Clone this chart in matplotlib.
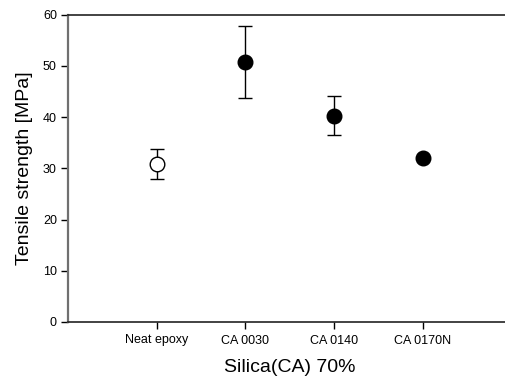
import matplotlib
matplotlib.use("Agg")
import matplotlib.pyplot as plt

categories = ["Neat epoxy", "CA 0030", "CA 0140", "CA 0170N"]
strength = [30.8, 50.8, 40.3, 32.0]
errors = [2.9, 7.0, 3.8, 0.0]
filled = [False, True, True, True]
yticks = [0, 10, 20, 30, 40, 50, 60]

plt.rcParams['font.family'] = ['Liberation Sans', 'DejaVu Sans']

fig = plt.figure(figsize=(5.06, 3.78), dpi=100)
W, H = 506, 378
left, right, top, bottom = 68, 511.5, 14.7, 322
ax = fig.add_axes([left / W, 1 - bottom / H, (right - left) / W, (bottom - top) / H])

xs = list(range(1, len(categories) + 1))
for x, y, e, f in zip(xs, strength, errors, filled):
    ax.errorbar(x, y, yerr=e, fmt='o', color='black', ecolor='black',
                elinewidth=1.0, capsize=5, capthick=1.0,
                markersize=10.5, markeredgewidth=1.0,
                markerfacecolor='black' if f else 'white',
                markeredgecolor='black', zorder=3)

ax.set_xlim(0, 5)
ax.set_ylim(0, 60)
ax.set_xticks(xs)
ax.set_xticklabels(categories, fontsize=9)
ax.set_yticks(yticks)
ax.set_yticklabels([str(v) for v in yticks], fontsize=9)
ax.tick_params(axis='both', direction='out', length=5, width=1.0, colors='black')
ax.tick_params(axis='x', pad=4)
ax.tick_params(axis='y', pad=3)

ax.spines['right'].set_visible(False)
ax.spines['left'].set_color('#707070')
ax.spines['left'].set_linewidth(1.6)
ax.spines['top'].set_color('#222222')
ax.spines['top'].set_linewidth(1.2)
ax.spines['bottom'].set_color('#222222')
ax.spines['bottom'].set_linewidth(1.2)

ax.set_xlabel("Silica(CA) 70%", fontsize=14, labelpad=9)
ax.set_ylabel("Tensile strength [MPa]", fontsize=14, labelpad=7)

fig.savefig("out.png", dpi=100)
